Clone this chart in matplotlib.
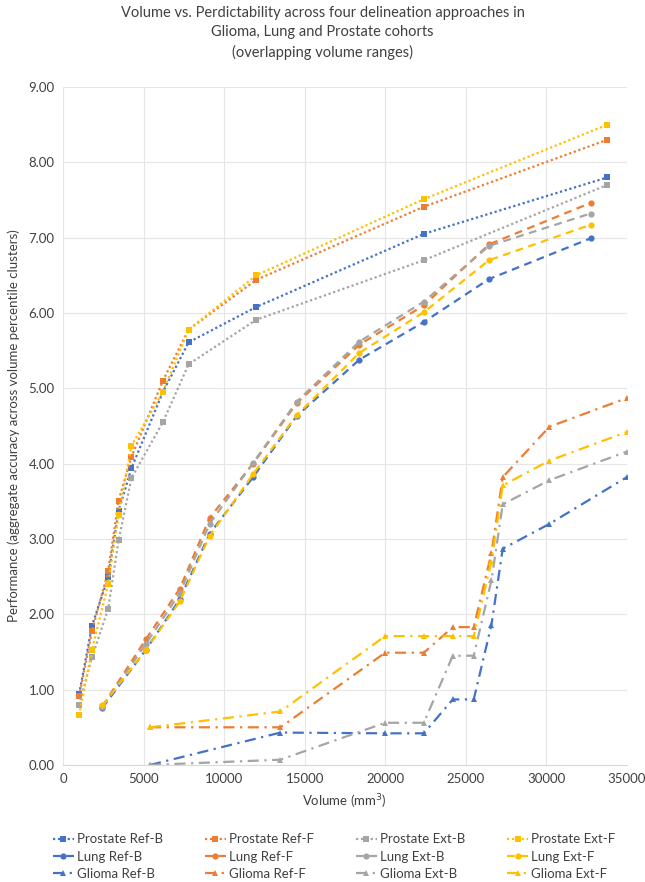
import numpy as np
import matplotlib
matplotlib.use("Agg")
import matplotlib.pyplot as plt

plt.rcParams['font.family'] = ['Lato', 'DejaVu Sans']

# colours for the four approaches
approaches = ['Ref-B', 'Ref-F', 'Ext-B', 'Ext-F']
colors = ['#4472C4', '#ED7D31', '#A5A5A5', '#FFC000']

# prostate cohort
prostate_x = [1000, 1800, 2800, 3450, 4250, 6200, 7800, 12000, 22400, 33800]
prostate_y = {
    'Ref-B': [0.94, 1.85, 2.49, 3.37, 3.94, 4.95, 5.61, 6.08, 7.05, 7.80],
    'Ref-F': [0.91, 1.78, 2.57, 3.51, 4.09, 5.10, 5.78, 6.44, 7.41, 8.30],
    'Ext-B': [0.80, 1.43, 2.07, 2.98, 3.81, 4.55, 5.32, 5.91, 6.70, 7.70],
    'Ext-F': [0.66, 1.53, 2.40, 3.32, 4.24, 4.95, 5.78, 6.50, 7.51, 8.50],
}

# lung cohort
lung_x = [2450, 5150, 7250, 9100, 11800, 14500, 18400, 22400, 26450, 32750]
lung_y = {
    'Ref-B': [0.76, 1.53, 2.20, 3.07, 3.82, 4.63, 5.38, 5.88, 6.45, 6.99],
    'Ref-F': [0.78, 1.67, 2.34, 3.28, 4.00, 4.80, 5.58, 6.10, 6.91, 7.46],
    'Ext-B': [0.77, 1.61, 2.28, 3.20, 4.01, 4.82, 5.62, 6.15, 6.89, 7.32],
    'Ext-F': [0.79, 1.53, 2.17, 3.04, 3.86, 4.64, 5.47, 6.01, 6.70, 7.17],
}

# glioma cohort
glioma_x = [5400, 13500, 20000, 22400, 24200, 25500, 26600, 27300, 30200, 35000]
glioma_y = {
    'Ref-B': [0.00, 0.43, 0.42, 0.42, 0.87, 0.87, 1.86, 2.87, 3.20, 3.82],
    'Ref-F': [0.50, 0.50, 1.49, 1.49, 1.83, 1.83, 2.81, 3.82, 4.49, 4.87],
    'Ext-B': [0.00, 0.07, 0.56, 0.56, 1.45, 1.45, 2.45, 3.46, 3.78, 4.16],
    'Ext-F': [0.50, 0.71, 1.71, 1.71, 1.71, 1.71, 2.70, 3.71, 4.04, 4.42],
}

cohorts = [('Prostate', prostate_x, prostate_y, 's', (0, (1, 1.2))),
           ('Lung', lung_x, lung_y, 'o', (0, (3.5, 2.5))),
           ('Glioma', glioma_x, glioma_y, '^', (0, (5, 2.5, 1, 2.5)))]

fig = plt.figure(figsize=(6.45, 8.82), dpi=100)
ax = fig.add_axes([0.0977, 0.1327, 0.8740, 0.7687])

handles = {}
for name, xs, ys, mk, ls in cohorts:
    for a, c in zip(approaches, colors):
        h, = ax.plot(xs, ys[a], color=c, linestyle=ls, linewidth=1.6,
                     marker=mk, markersize=4.5, markeredgewidth=0,
                     label=name + ' ' + a)
        handles[(name, a)] = h

ax.set_xlim(0, 35000)
ax.set_ylim(0, 9)
ax.set_xticks(np.arange(0, 35001, 5000))
ax.set_yticks(np.arange(0, 9.01, 1))
ax.set_yticklabels(['%.2f' % v for v in np.arange(0, 9.01, 1)])
ax.grid(True, color='#E6E6E6', linewidth=0.8)
ax.set_axisbelow(True)
for s in ['top', 'right', 'left']:
    ax.spines[s].set_visible(False)
ax.spines['bottom'].set_color('#D9D9D9')
ax.tick_params(length=0, labelsize=9.5, colors='#404040', pad=6)

ax.set_xlabel('Volume (mm$^3$)', fontsize=9.5, color='#404040', labelpad=5)
ax.set_ylabel('Performance (aggregate accuracy across volume percentile clusters)',
              fontsize=9.5, color='#404040', labelpad=6)

fig.suptitle('Volume vs. Perdictability across four delineation approaches in\n'
             'Glioma, Lung and Prostate cohorts\n(overlapping volume ranges)',
             fontsize=10.5, color='#404040', y=0.993, linespacing=1.45)

# legend laid out in rows by cohort (column-major fill)
order = [handles[(n, a)] for a in approaches for n in ['Prostate', 'Lung', 'Glioma']]
fig.legend(handles=order, labels=[h.get_label() for h in order], ncol=4,
           loc='upper left', bbox_to_anchor=(0.082, 0.055), frameon=False,
           borderpad=0, borderaxespad=0,
           fontsize=9.5, labelcolor='#404040', handlelength=1.6,
           handletextpad=0.2, columnspacing=3.2, labelspacing=0.4)

fig.savefig('out.png', dpi=100)
